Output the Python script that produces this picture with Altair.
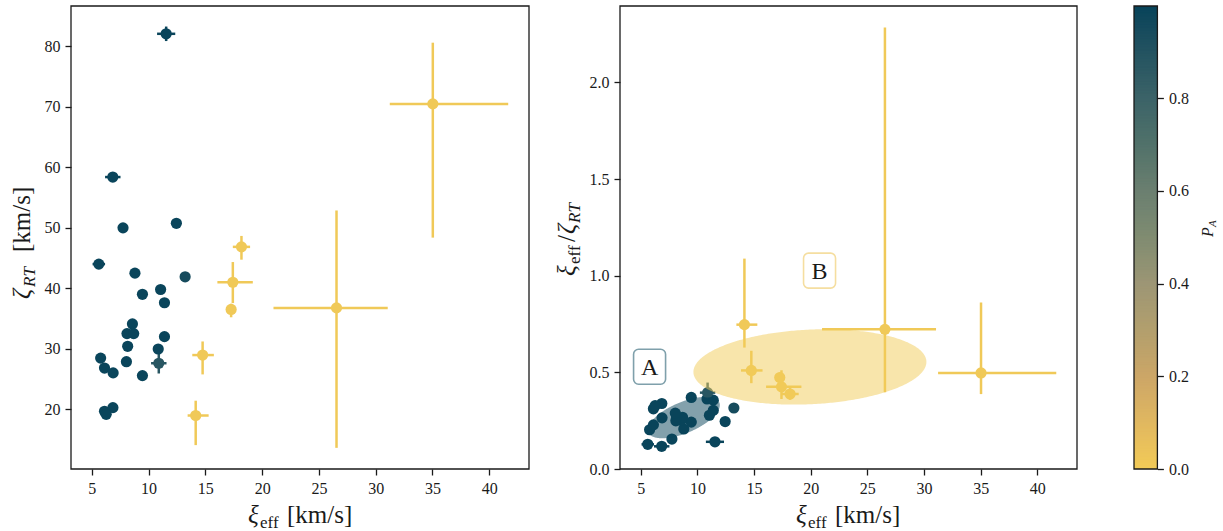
import altair as alt
import numpy as np
import pandas as pd

# ---------------------------------------------------------------------------
# Measured quantities: effective microturbulence xi_eff, radial-tangential
# macroturbulence zeta_RT (km/s), their lower/upper limits, and the posterior
# probability P_A of belonging to group A.
# ---------------------------------------------------------------------------
xi_eff = [11.55, 6.85, 7.75, 12.45, 5.62, 8.80, 13.22, 11.06, 9.46, 11.40,
          8.58, 8.10, 8.69, 11.40, 8.16, 10.85, 5.78, 10.90, 8.05, 6.12,
          6.88, 9.46, 6.86, 6.12, 6.27,
          35.03, 26.55, 18.18, 17.42, 17.27, 14.76, 14.15]
xi_lo = [10.75, 6.17, 7.75, 12.45, 5.07, 8.80, 13.22, 11.06, 9.46, 11.40,
         8.58, 8.10, 8.69, 11.40, 8.16, 10.85, 5.78, 10.22, 8.05, 6.12,
         6.88, 9.46, 6.86, 6.12, 6.27,
         31.24, 21.00, 17.42, 16.06, 16.97, 13.85, 13.44]
xi_hi = [12.35, 7.53, 7.75, 12.45, 6.17, 8.80, 13.22, 11.06, 9.46, 11.40,
         8.58, 8.10, 8.69, 11.40, 8.16, 10.85, 5.78, 11.58, 8.05, 6.12,
         6.88, 9.46, 6.86, 6.12, 6.27,
         41.67, 31.06, 18.94, 19.18, 17.57, 15.75, 15.29]
zeta_rt = [82.1, 58.4, 50.0, 50.75, 44.0, 42.5, 41.9, 39.8, 39.0, 37.6,
           34.1, 32.5, 32.5, 32.0, 30.4, 29.95, 28.45, 27.6, 27.85, 26.8,
           26.0, 25.55, 20.25, 19.65, 19.15,
           70.5, 36.75, 46.85, 41.0, 36.5, 28.95, 18.95]
zeta_lo = [80.9, 57.8, 50.0, 50.75, 43.7, 42.5, 41.9, 39.8, 39.0, 37.6,
           34.1, 32.5, 32.5, 32.0, 30.4, 29.95, 28.45, 25.9, 27.85, 26.8,
           26.0, 25.55, 20.25, 19.65, 19.15,
           48.38, 13.6, 44.73, 37.55, 35.2, 25.75, 14.05]
zeta_hi = [83.3, 59.0, 50.0, 50.75, 44.3, 42.5, 41.9, 39.8, 39.0, 37.6,
           34.1, 32.5, 32.5, 32.0, 30.4, 29.95, 28.45, 29.3, 27.85, 26.8,
           26.0, 25.55, 20.25, 19.65, 19.15,
           80.63, 52.87, 48.66, 44.34, 37.44, 31.2, 21.4]
p_a = [0.99, 0.99, 0.99, 0.99, 0.99, 0.99, 0.95, 0.99, 0.99, 0.99,
       0.99, 0.99, 0.99, 0.99, 0.99, 0.99, 0.99, 0.88, 0.99, 0.99,
       0.99, 0.99, 0.99, 0.99, 0.99,
       0.01, 0.01, 0.01, 0.01, 0.01, 0.01, 0.01]

# Gaussian-mixture components in the (xi_eff, xi_eff/zeta_RT) plane:
# centre, spread along each axis and correlation
comp_names = ["A", "B"]
comp_cx = [8.8, 19.93]
comp_cy = [0.266, 0.528]
comp_sx = [3.18, 10.28]
comp_sy = [0.107, 0.195]
comp_rho = [0.6, 0.133]
comp_color = ["#07435a", "#f2cb57"]
comp_edge = ["#7fa0ab", "#f5dea0"]
comp_label_x = [5.78, 20.78]
comp_label_y = [0.529, 1.026]

# colour map for P_A (yellow -> deep teal)
cmap_pos = [0.0, 0.2, 0.4, 0.6, 0.8, 1.0]
cmap_col = ["#f2cb57", "#cca667", "#9d9675", "#6b7f70", "#3c6368", "#07435a"]

x_ticks = [5, 10, 15, 20, 25, 30, 35, 40]
zeta_ticks = [20, 30, 40, 50, 60, 70, 80]
ratio_ticks = [0.0, 0.5, 1.0, 1.5, 2.0]
cbar_ticks = [0.0, 0.2, 0.4, 0.6, 0.8]

FONT = "Liberation Serif"
INK = "#1a1a1a"
PW, PW2, PH, CBW = 458, 457, 463, 23.4

df = pd.DataFrame(dict(xi=xi_eff, xlo=xi_lo, xhi=xi_hi,
                       z=zeta_rt, zlo=zeta_lo, zhi=zeta_hi, p=p_a))
df["r"] = df.xi / df.z
df["rlo"] = df.xlo / df.zhi
df["rhi"] = df.xhi / df.zlo

cscale = alt.Scale(domain=cmap_pos, range=cmap_col, clamp=True)
col = alt.Color("p:Q", scale=cscale, legend=None)
xscale = alt.Scale(domain=[3.17, 43.5], nice=False, zero=False)


def axis(values, fmt=None, orient=None):
    kw = dict(values=values, title=None, grid=False, domain=False, tickSize=6,
              tickWidth=1.3, tickColor=INK, labelColor=INK, labelFont=FONT,
              labelFontSize=16, labelPadding=5, labelFlush=False,
              labelOverlap=False)
    if fmt:
        kw["format"] = fmt
    if orient:
        kw["orient"] = orient
    return alt.Axis(**kw)


def piece(s, x, y, size=25, style="normal", angle=0):
    return alt.Chart(pd.DataFrame({"s": [s]})).mark_text(
        font=FONT, fontSize=size, fontStyle=style, angle=angle, align="left",
        baseline="alphabetic", color=INK
    ).encode(text="s:N", x=alt.value(x), y=alt.value(y))


def frame(w, h):
    # axes box drawn above the data, like plot spines
    return alt.Chart(pd.DataFrame({"f": [0]})).mark_rect(
        fillOpacity=0, stroke=INK, strokeWidth=1.3
    ).encode(x=alt.value(0), x2=alt.value(w), y=alt.value(0), y2=alt.value(h))


def scatter(ycol, ylo, yhi, yscale, yaxis):
    base = alt.Chart(df)
    X = alt.X("xi:Q", scale=xscale, axis=axis(x_ticks))
    Y = alt.Y(f"{ycol}:Q", scale=yscale, axis=yaxis)
    hbar = base.mark_rule(strokeWidth=2.5).encode(
        x=alt.X("xlo:Q", scale=xscale, axis=axis(x_ticks)), x2="xhi:Q",
        y=Y, color=col)
    vbar = base.mark_rule(strokeWidth=2.5).encode(
        x=X, y=alt.Y(f"{ylo}:Q", scale=yscale, axis=yaxis), y2=f"{yhi}:Q",
        color=col)
    dots = base.mark_circle(size=125, opacity=1).encode(x=X, y=Y, color=col)
    return hbar + vbar + dots


# ---------------- left panel: zeta_RT vs xi_eff ----------------
zscale = alt.Scale(domain=[10.1, 86.7], nice=False, zero=False)
left = scatter("z", "zlo", "zhi", zscale, axis(zeta_ticks))

# white anchor mark pinning the outer margin of the figure
anchor = alt.Chart(pd.DataFrame({"a": [0]})).mark_rule(
    color="white", strokeWidth=1).encode(
    x=alt.value(-70.5), y=alt.value(-5.5), y2=alt.value(-5))

left_titles = [
    piece("ξ", 177, 517, 25, "italic"),
    piece("eff", 189, 522, 17),
    piece("[km/s]", 216, 517, 25),
    piece("ζ", -41, 293, 25, "italic", 270),
    piece("RT", -36, 281, 17, "italic", 270),
    piece("[km/s]", -41, 246, 25, "normal", 270),
]
left = alt.layer(left, anchor, frame(PW, PH), *left_titles).properties(
    width=PW, height=PH)

# ---------------- right panel: xi_eff / zeta_RT vs xi_eff ----------------
rscale = alt.Scale(domain=[0.0, 2.395], nice=False, zero=False)
right = scatter("r", "rlo", "rhi", rscale, axis(ratio_ticks, ".1f"))

ellipse_layers = []
box_layers = []
for name, cx, cy, sx, sy, rho, fc, ec, lx, ly in zip(
        comp_names, comp_cx, comp_cy, comp_sx, comp_sy, comp_rho,
        comp_color, comp_edge, comp_label_x, comp_label_y):
    u = -np.cos(np.linspace(0, np.pi, 181))
    half = np.sqrt(1 - rho ** 2) * np.sqrt(np.clip(1 - u ** 2, 0, None))
    ell = pd.DataFrame(dict(ex=cx + sx * u,
                            ey1=cy + sy * (rho * u + half),
                            ey2=cy + sy * (rho * u - half)))
    ellipse_layers.append(
        alt.Chart(ell).mark_area(color=fc, opacity=0.5, orient="vertical",
                                 interpolate="linear").encode(
            x=alt.X("ex:Q", scale=xscale, axis=axis(x_ticks)),
            y=alt.Y("ey1:Q", scale=rscale, axis=axis(ratio_ticks, ".1f"),
                    stack=None),
            y2="ey2:Q",
        ))
    lab = pd.DataFrame(dict(name=[name], lx=[lx], ly=[ly]))
    pos = dict(x=alt.X("lx:Q", scale=xscale, axis=axis(x_ticks)),
               y=alt.Y("ly:Q", scale=rscale, axis=axis(ratio_ticks, ".1f")))
    box_layers.append(
        alt.Chart(lab).mark_rect(width=32, height=35, cornerRadius=5,
                                 fill="white", stroke=ec,
                                 strokeWidth=1.6).encode(**pos))
    box_layers.append(
        alt.Chart(lab).mark_text(font=FONT, fontSize=24, color=INK,
                                 align="center", baseline="middle",
                                 dy=1).encode(text="name:N", **pos))

right_titles = [
    piece("ξ", 176, 517, 25, "italic"),
    piece("eff", 188, 522, 17),
    piece("[km/s]", 215, 517, 25),
    piece("ξ", -45, 270, 25, "italic", 270),
    piece("eff", -40, 258, 17, "normal", 270),
    piece("/", -45, 236, 25, "normal", 270),
    piece("ζ", -45, 228, 25, "italic", 270),
    piece("RT", -40, 217, 17, "italic", 270),
]
right = alt.layer(right, *ellipse_layers, *box_layers, frame(PW2, PH),
                  *right_titles).properties(width=PW2, height=PH)

# ---------------- colour bar for P_A ----------------
n_band = 300
top = 0.999
edges = np.linspace(0, top, n_band + 1)
cb = pd.DataFrame(dict(v0=edges[:-1], v1=np.minimum(edges[1:] + 0.002, top),
                       p=(edges[:-1] + edges[1:]) / 2))
cbscale = alt.Scale(domain=[0, top], nice=False, zero=False)
cbar = alt.Chart(cb).mark_rect(strokeWidth=0).encode(
    x=alt.value(0), x2=alt.value(CBW),
    y=alt.Y("v0:Q", scale=cbscale,
            axis=axis(cbar_ticks, ".1f", "right")),
    y2="v1:Q",
    color=col,
)
cbar_titles = [
    piece("P", 79, 231, 16, "italic", 270),
    piece("A", 82, 221, 11, "italic", 270),
]
cbar = alt.layer(cbar, frame(CBW, PH), *cbar_titles).properties(
    width=CBW, height=PH)

chart = alt.hconcat(
    left,
    alt.hconcat(right, cbar, spacing=57, bounds="flush"),
    spacing=91, bounds="flush",
).properties(
    padding={"left": 0, "top": 0, "right": 0, "bottom": 0},
    background="white",
).configure_view(
    strokeWidth=0
)

chart.save("out.html", embed_options={"renderer": "svg", "actions": False})
